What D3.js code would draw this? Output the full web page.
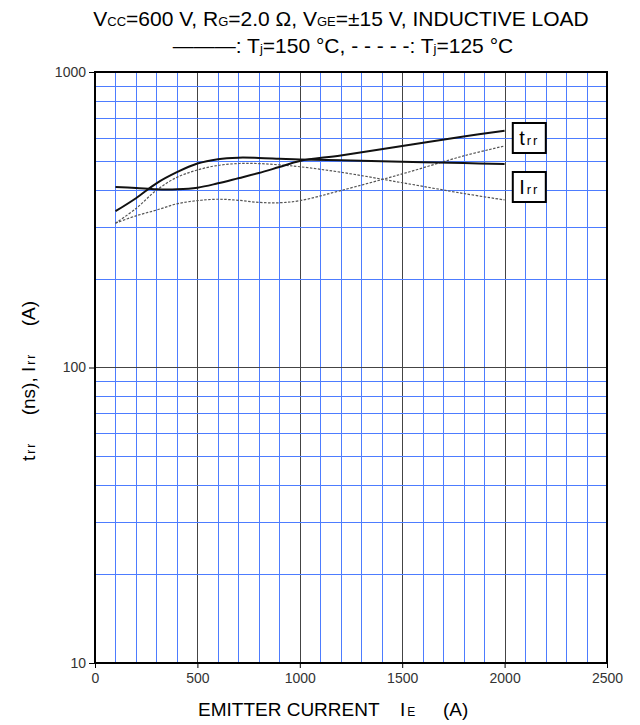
<!DOCTYPE html>
<html><head><meta charset="utf-8">
<script src="https://cdn.jsdelivr.net/npm/d3@7"></script>
<style>body{margin:0;background:#fff}svg{display:block;font-family:"Liberation Sans",Arial,sans-serif}</style>
</head><body><svg id="c" width="640" height="725"></svg>
<script>
const xTicks = [0, 500, 1000, 1500, 2000, 2500];
const yTicks = [10, 100, 1000];
const current = [100, 200, 300, 400, 500, 600, 700, 800, 900, 1000, 1200, 1500, 1800, 2000];
const trr150 = [408, 405, 401, 401, 406, 420, 437, 455, 477, 500, 522, 562, 605, 633];
const irr150 = [338, 374, 420, 458, 490, 507, 513, 512, 509, 506, 503, 497, 492, 488];
const trr125 = [308, 326, 341, 358, 367, 371, 368, 362, 361, 367, 397, 452, 520, 562];
const irr125 = [308, 345, 398, 440, 466, 483, 490, 490, 485, 478, 458, 422, 388, 369];

const svg = d3.select("#c");
const L = 95, R = 607, T = 72, B = 663;
const x = d3.scaleLinear().domain([0, 2500]).range([L, R]);
const y = d3.scaleLog().domain([10, 1000]).range([B, T]);

// grid
const g = svg.append("g");
for (let v = 100; v < 2500; v += 100) {
  const major = v % 500 === 0;
  g.append("line").attr("x1", Math.round(x(v)) + 0.5).attr("x2", Math.round(x(v)) + 0.5)
    .attr("y1", T).attr("y2", B)
    .attr("stroke", major ? "#444" : "#4d7cff").attr("stroke-width", 1);
}
[10, 100].forEach(d => {
  for (let m = 2; m <= 9; m++) {
    const v = d * m;
    g.append("line").attr("x1", L).attr("x2", R)
      .attr("y1", Math.round(y(v)) + 0.5).attr("y2", Math.round(y(v)) + 0.5)
      .attr("stroke", "#4d7cff").attr("stroke-width", 1);
  }
});
g.append("line").attr("x1", L).attr("x2", R).attr("y1", Math.round(y(100)) + 0.5).attr("y2", Math.round(y(100)) + 0.5)
  .attr("stroke", "#444").attr("stroke-width", 1);

// frame
svg.append("rect").attr("x", L).attr("y", T).attr("width", R - L).attr("height", B - T)
  .attr("fill", "none").attr("stroke", "#000").attr("stroke-width", 2);

// axes ticks/labels
const yAxis = d3.axisLeft(y).tickValues(yTicks).tickFormat(d3.format("d")).tickSize(6).tickPadding(3);
const ya = svg.append("g").attr("transform", `translate(${L},0)`).call(yAxis);
const xAxis = d3.axisBottom(x).tickValues(xTicks).tickFormat(d3.format("d")).tickSize(5).tickPadding(5);
const xa = svg.append("g").attr("transform", `translate(0,${B})`).call(xAxis);
[ya, xa].forEach(a => {
  a.select(".domain").remove();
  a.selectAll("text").attr("font-size", 14).attr("fill", "#333").attr("font-family", "Liberation Sans, Arial, sans-serif");
  a.selectAll("line").attr("stroke", "#000");
});

// curves
const line = d3.line().x((d, i) => x(current[i])).y(d => y(d)).curve(d3.curveCatmullRom.alpha(0.5));
const plot = (arr, dashed) => svg.append("path").datum(arr).attr("d", line)
  .attr("fill", "none").attr("stroke", dashed ? "#555" : "#111")
  .attr("stroke-width", dashed ? 1.2 : 2).attr("stroke-dasharray", dashed ? "2.5,1.5" : null);
plot(trr125, true); plot(irr125, true); plot(trr150, false); plot(irr150, false);

// label boxes
const boxes = [{t: "t", s: "rr", y: 123}, {t: "I", s: "rr", y: 172}];
boxes.forEach(b => {
  svg.append("rect").attr("x", x(2040)).attr("y", b.y).attr("width", 33).attr("height", 30)
    .attr("fill", "#fff").attr("stroke", "#000").attr("stroke-width", 2);
  const tx = svg.append("text").attr("x", x(2040) + 16.5).attr("y", b.y + 22).attr("text-anchor", "middle")
    .attr("font-size", 20);
  tx.append("tspan").text(b.t);
  tx.append("tspan").attr("font-size", 13).attr("letter-spacing", 2).attr("dx", 2).text(b.s);
});

// title
const t1 = svg.append("text").attr("x", 341).attr("y", 26).attr("text-anchor", "middle").attr("font-size", 21);
const parts1 = [["V", 0], ["CC", 1], ["=600 V, R", 0], ["G", 1], ["=2.0 Ω, V", 0], ["GE", 1], ["=±15 V, INDUCTIVE LOAD", 0]];
parts1.forEach(p => t1.append("tspan").attr("font-size", p[1] ? 13 : 21).text(p[0]));
const t2 = svg.append("text").attr("x", 343).attr("y", 53).attr("text-anchor", "middle").attr("font-size", 21);
const parts2 = [["———: T", 0], ["j", 1], ["=150 °C, - - - - -: T", 0], ["j", 1], ["=125 °C", 0]];
parts2.forEach(p => t2.append("tspan").attr("font-size", p[1] ? 13 : 21).text(p[0]));

// x axis title
svg.append("text").attr("x", 198).attr("y", 716).attr("font-size", 19).text("EMITTER CURRENT");
const ie = svg.append("text").attr("x", 400).attr("y", 716).attr("font-size", 19);
ie.append("tspan").text("I");
ie.append("tspan").attr("font-size", 12).attr("dx", 2).text("E");
svg.append("text").attr("x", 443).attr("y", 716).attr("font-size", 19).text("(A)");

// y axis title
const yt = svg.append("text").attr("transform", "translate(35,381) rotate(-90)").attr("text-anchor", "middle")
  .attr("font-size", 19).style("white-space", "pre");
yt.append("tspan").text("t");
yt.append("tspan").attr("font-size", 12).attr("letter-spacing", 2).attr("dx", 2).text("rr");
yt.append("tspan").text("     (ns), I");
yt.append("tspan").attr("font-size", 12).attr("letter-spacing", 2).attr("dx", 2).text("rr");
yt.append("tspan").text("     (A)");
</script></body></html>
